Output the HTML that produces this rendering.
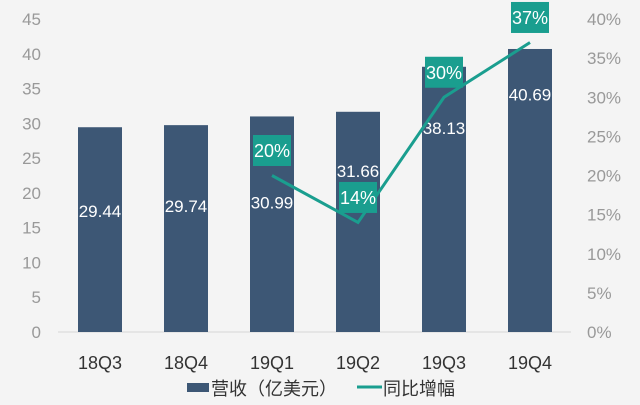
<!DOCTYPE html>
<html><head><meta charset="utf-8"><style>
html,body{margin:0;padding:0;background:#f4f4f4;}
svg{display:block;font-family:"Liberation Sans","Noto Sans CJK SC",sans-serif;}
</style></head><body>
<svg id="c" width="640" height="405" viewBox="0 0 640 405">
<rect width="640" height="405" fill="#f4f4f4"/>
<g id="g"></g>
</svg>
<script>
const categories=["18Q3","18Q4","19Q1","19Q2","19Q3","19Q4"];
const revenue=[29.44,29.74,30.99,31.66,38.13,40.69];
const growthIdx=[2,3,4,5];
const growth=[0.20,0.14,0.30,0.37];
const growthLabels=["20%","14%","30%","37%"];
const leftTicks=[0,5,10,15,20,25,30,35,40,45];
const rightTicks=[0,0.05,0.10,0.15,0.20,0.25,0.30,0.35,0.40];
const labelFrac=[0.41,0.39,0.40,0.27,0.23,0.16];

const NS="http://www.w3.org/2000/svg";
const g=document.getElementById('g');
const y0=332,yTop=19;
const yL=v=>y0-(v/45)*(y0-yTop);
const yR=v=>y0-(v/0.40)*(y0-yTop);
const xC=i=>100+i*86;
function mk(t,a,txt){const e=document.createElementNS(NS,t);for(const k in a)e.setAttribute(k,a[k]);if(txt!==undefined)e.textContent=txt;g.appendChild(e);return e;}

leftTicks.forEach(v=>{const e=mk('text',{x:41,y:yL(v)+6,'text-anchor':'end','font-size':17,fill:'#999'},String(v));

});
rightTicks.forEach(v=>{const e=mk('text',{x:587,y:yR(v)+6,'text-anchor':'start','font-size':17,fill:'#999'},Math.round(v*100)+'%');

});
let ax=mk('line',{x1:58,x2:571,y1:y0,y2:y0,stroke:'#d6d6d6','stroke-width':1});



revenue.forEach((v,i)=>{const top=yL(v);
const b=mk('rect',{x:xC(i)-22,y:top,width:44,height:y0-top,fill:'#3d5775'});


const t=mk('text',{x:xC(i),y:top+(y0-top)*labelFrac[i]+6,'text-anchor':'middle','font-size':17,fill:'#fff'},v.toFixed(2));


const c=mk('text',{x:xC(i),y:369,'text-anchor':'middle','font-size':18,fill:'#333'},categories[i]);

});

const pts=growth.map((v,k)=>xC(growthIdx[k])+','+yR(v)).join(' ');
const ln=mk('polyline',{points:pts,fill:'none',stroke:'#1a9e8f','stroke-width':3,'stroke-linejoin':'miter'});


growth.forEach((v,k)=>{const x=xC(growthIdx[k]),y=yR(v)-25;
const r=mk('rect',{x:x-19,y:y-15.5,width:38,height:31,fill:'#1a9e8f'});


const t=mk('text',{x:x,y:y+6.5,'text-anchor':'middle','font-size':18,fill:'#fff'},growthLabels[k]);

});

const s1=mk('rect',{x:187,y:383,width:22,height:9,fill:'#3d5775'});


const l1=mk('text',{x:211,y:395,'font-size':18,fill:'#333'},'营收（亿美元）');


const s2=mk('line',{x1:357,x2:382,y1:387,y2:387,stroke:'#1a9e8f','stroke-width':3});


const l2=mk('text',{x:383,y:395,'font-size':18,fill:'#333'},'同比增幅');


</script>
</body></html>
